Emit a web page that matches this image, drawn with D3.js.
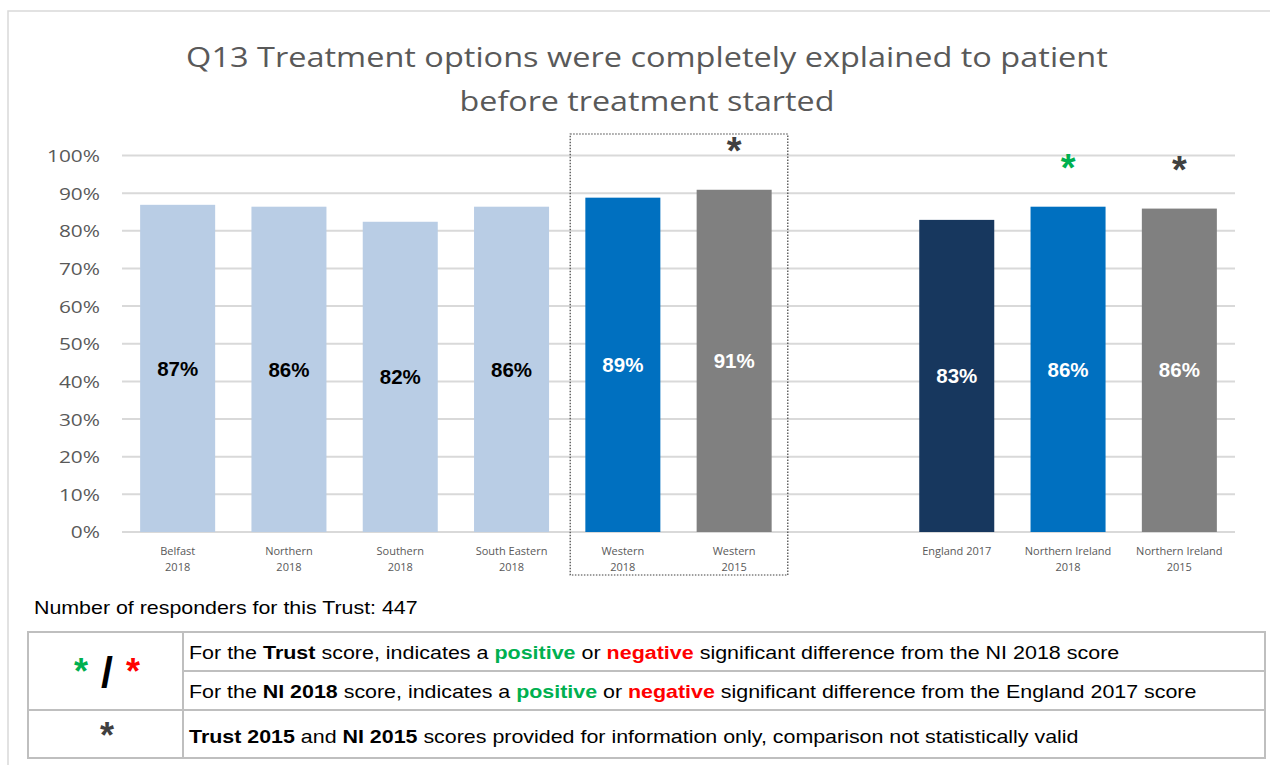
<!DOCTYPE html>
<html>
<head>
<meta charset="utf-8">
<script src="https://cdn.jsdelivr.net/npm/d3@7"></script>
<style>
  html, body { margin: 0; padding: 0; background: #fff; }
  svg { display: block; }
</style>
</head>
<body>
<svg id="chart" width="1270" height="765"></svg>
<script>
// ---- data ----
const titleLines = ["Q13 Treatment options were completely explained to patient", "before treatment started"];
const categories = ["Belfast\n2018", "Northern\n2018", "Southern\n2018", "South Eastern\n2018", "Western\n2018", "Western\n2015", "", "England 2017", "Northern Ireland\n2018", "Northern Ireland\n2015"];
const values = [86.9, 86.4, 82.4, 86.4, 88.8, 90.9, null, 82.9, 86.4, 85.9];
const valueLabels = ["87%", "86%", "82%", "86%", "89%", "91%", "", "83%", "86%", "86%"];
const barColors = ["#B9CDE5", "#B9CDE5", "#B9CDE5", "#B9CDE5", "#0070C0", "#808080", null, "#17375E", "#0070C0", "#808080"];
const labelColors = ["#000", "#000", "#000", "#000", "#fff", "#fff", null, "#fff", "#fff", "#fff"];
const markers = [null, null, null, null, null, "#404040", null, null, "#00B050", "#404040"];
const yTicks = [0, 10, 20, 30, 40, 50, 60, 70, 80, 90, 100];
const highlighted = ["Western\n2018", "Western\n2015"];
const respondersText = "Number of responders for this Trust: 447";

const svg = d3.select("#chart");

// horizontally stretch a text element to a target width around an anchor x
function stretch(sel, target, ax) {
  const w = sel.node().getComputedTextLength();
  const s = target / w;
  sel.attr("transform", `translate(${ax},0) scale(${s},1) translate(${-ax},0)`);
  return s;
}
function stretchBy(sel, s, ax) {
  sel.attr("transform", `translate(${ax},0) scale(${s},1) translate(${-ax},0)`);
}

// outer frame
svg.append("path").attr("d", "M8,765 V11 H1270").attr("fill", "none").attr("stroke", "#D9D9D9").attr("stroke-width", 1.5);

// title
const titleWidths = [922, 375];
titleLines.forEach((t, i) => {
  const tt = svg.append("text").attr("text-anchor", "middle").attr("x", 647).attr("y", 67 + i * 44)
    .attr("font-family", "'Open Sans', sans-serif").attr("font-size", 28).attr("fill", "#595959").text(t);
  stretch(tt, titleWidths[i], 647);
});

// scales
const x = d3.scaleBand().domain(categories).range([122, 1235]).paddingInner(0.326).paddingOuter(0.163);
const y = d3.scaleLinear().domain([0, 100]).range([532, 155.5]);

// gridlines
svg.append("g").selectAll("line").data(yTicks).join("line")
  .attr("x1", 122).attr("x2", 1235)
  .attr("y1", d => y(d)).attr("y2", d => y(d))
  .attr("stroke", "#D9D9D9").attr("stroke-width", 2);

// y axis labels
const yAxis = svg.append("g").attr("transform", "translate(100,0)")
  .call(d3.axisLeft(y).tickValues(yTicks).tickFormat(d => d + "%").tickSize(0).tickPadding(0));
yAxis.select(".domain").remove();
yAxis.selectAll("text").attr("font-family", "'Open Sans', sans-serif").attr("font-size", 17).attr("fill", "#595959").attr("dy", "0.35em");
const yTop = yAxis.selectAll("text").filter(d => d === 100);
const ys = 53 / yTop.node().getComputedTextLength();
yAxis.selectAll("text").each(function () { stretchBy(d3.select(this), ys, 0); });

// bars
const data = categories.map((c, i) => ({ c, v: values[i], lab: valueLabels[i], col: barColors[i], lc: labelColors[i], m: markers[i] }))
  .filter(d => d.v != null);
svg.append("g").selectAll("rect").data(data).join("rect")
  .attr("x", d => x(d.c)).attr("width", x.bandwidth())
  .attr("y", d => y(d.v)).attr("height", d => y(0) - y(d.v))
  .attr("fill", d => d.col);

// value labels
svg.append("g").selectAll("text").data(data).join("text")
  .attr("x", d => x(d.c) + x.bandwidth() / 2)
  .attr("y", d => (y(d.v) + y(0)) / 2)
  .attr("dy", "0.35em").attr("text-anchor", "middle")
  .attr("font-family", "'Liberation Sans', Arial, sans-serif").attr("font-weight", "bold").attr("font-size", 20.5)
  .attr("fill", d => d.lc).text(d => d.lab);

// significance markers
svg.append("g").selectAll("text").data(data.filter(d => d.m)).join("text")
  .attr("x", d => x(d.c) + x.bandwidth() / 2)
  .attr("y", d => y(d.v) - 26)
  .attr("text-anchor", "middle")
  .attr("font-family", "'Liberation Sans', Arial, sans-serif").attr("font-weight", "bold").attr("font-size", 38)
  .attr("fill", d => d.m).text("*");

// x axis category labels
const xl = svg.append("g");
categories.forEach(c => {
  if (!c) return;
  const lines = c.split("\n");
  const t = xl.append("text").attr("text-anchor", "middle")
    .attr("font-family", "'Open Sans', sans-serif").attr("font-size", 11).attr("fill", "#595959");
  lines.forEach((l, i) => t.append("tspan").attr("x", x(c) + x.bandwidth() / 2).attr("y", 555 + i * 16).text(l));
});

// dotted highlight box
const bx0 = x(highlighted[0]) - x.step() * x.paddingInner() / 2 + 3;
const bx1 = x(highlighted[1]) + x.bandwidth() + x.step() * x.paddingInner() / 2 - 2;
svg.append("rect").attr("x", bx0).attr("y", 134).attr("width", bx1 - bx0).attr("height", 441)
  .attr("fill", "none").attr("stroke", "#404040").attr("stroke-width", 1.2).attr("stroke-dasharray", "1.5,1.5");

// responders text
const ff = "'Liberation Sans', Arial, sans-serif";
const resp = svg.append("text").attr("x", 34).attr("y", 614)
  .attr("font-family", ff).attr("font-size", 18).attr("fill", "#000")
  .text(respondersText);
stretch(resp, 384, 34);

// legend table
const tg = svg.append("g").attr("stroke", "#BFBFBF").attr("stroke-width", 2).attr("fill", "none");
tg.append("rect").attr("x", 28).attr("y", 632).attr("width", 1237).attr("height", 126);
tg.append("line").attr("x1", 183).attr("x2", 183).attr("y1", 632).attr("y2", 758);
tg.append("line").attr("x1", 183).attr("x2", 1265).attr("y1", 671).attr("y2", 671);
tg.append("line").attr("x1", 28).attr("x2", 1265).attr("y1", 710).attr("y2", 710);

function rowText(yy, parts, target) {
  const t = svg.append("text").attr("x", 189).attr("y", yy).attr("font-family", ff).attr("font-size", 18.5).attr("fill", "#000");
  parts.forEach(p => t.append("tspan").attr("font-weight", p[1] ? "bold" : "normal").attr("fill", p[2] || "#000").text(p[0]));
  stretch(t, target, 189);
}
rowText(659, [["For the ", 0], ["Trust", 1], [" score, indicates a ", 0], ["positive", 1, "#00B050"], [" or ", 0], ["negative", 1, "#FF0000"], [" significant difference from the NI 2018 score", 0]], 931);
rowText(698, [["For the ", 0], ["NI 2018", 1], [" score, indicates a ", 0], ["positive", 1, "#00B050"], [" or ", 0], ["negative", 1, "#FF0000"], [" significant difference from the England 2017 score", 0]], 1008);
rowText(743, [["Trust 2015", 1], [" and  ", 0], ["NI 2015", 1], [" scores provided for information only, comparison not statistically valid", 0]], 890);

// key symbols
const sym = svg.append("g").attr("font-family", ff).attr("font-weight", "bold").attr("text-anchor", "middle");
sym.append("text").attr("x", 81).attr("y", 684).attr("font-size", 36).attr("fill", "#00B050").text("*");
sym.append("text").attr("x", 107).attr("y", 687).attr("font-size", 43).attr("fill", "#000").text("/");
sym.append("text").attr("x", 133).attr("y", 684).attr("font-size", 36).attr("fill", "#FF0000").text("*");
sym.append("text").attr("x", 107).attr("y", 748).attr("font-size", 36).attr("fill", "#404040").text("*");
</script>
</body>
</html>
